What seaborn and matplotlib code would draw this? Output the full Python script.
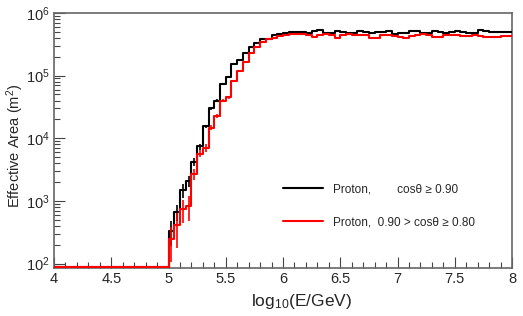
import numpy as np
import pandas as pd
import seaborn as sns
import matplotlib
matplotlib.use("Agg")
import matplotlib.pyplot as plt
from matplotlib.ticker import MultipleLocator, LogLocator, FixedLocator

# bin edges in log10(E/GeV), 0.05 wide
edges = np.round(np.arange(4.0, 8.0001, 0.05), 3)
centers = 0.5 * (edges[:-1] + edges[1:])

# Effective area per bin (m^2); bins below 5.0 are empty
area_c090 = [0] * 20 + [
    330, 675, 1480, 2090, 4170, 7400, 15500, 30000, 40000, 74000,
    94000, 155000, 178000, 230000, 283000, 330000, 380000, 380000, 450000, 460000,
    482000, 500000, 495000, 500000, 470000, 510000, 531000, 480000, 470000, 520000,
    500000, 485000, 480000, 510000, 500000, 480000, 490000, 505000, 510000, 465000,
    470000, 480000, 510000, 510000, 480000, 475000, 520000, 500000, 480000, 490000,
    515000, 500000, 485000, 480000, 525000, 520000, 500000, 495000, 500000, 495000,
]
area_c080 = [0] * 20 + [
    245, 410, 750, 830, 2680, 5700, 7100, 14800, 23000, 40000,
    45000, 81000, 117000, 163000, 230000, 283000, 340000, 380000, 400000, 430000,
    450000, 455000, 460000, 455000, 440000, 410000, 450000, 455000, 445000, 400000,
    450000, 460000, 445000, 440000, 450000, 395000, 400000, 450000, 440000, 430000,
    420000, 405000, 435000, 445000, 455000, 450000, 420000, 410000, 440000, 445000,
    450000, 430000, 425000, 440000, 430000, 420000, 415000, 420000, 430000, 425000,
]
# statistical errors (m^2), only visible on the rising edge
err_c090 = [0] * 20 + [140, 200, 350, 450, 600, 800, 1000, 1500, 2000, 2500, 3000] + [0] * 49
err_c080 = [0] * 20 + [140, 230, 300, 350, 500, 700, 1100, 1300, 1700, 2200, 2500] + [0] * 49

labels = ["Proton,        cos\u03b8 \u2265 0.90", "Proton,  0.90 > cos\u03b8 \u2265 0.80"]
colors = ["black", "#ff0000"]

sns.set_theme(style="ticks")
plt.rcParams["font.family"] = ["Liberation Sans", "DejaVu Sans"]
plt.rcParams["mathtext.fontset"] = "custom"
plt.rcParams["mathtext.rm"] = "Liberation Sans"
plt.rcParams["mathtext.it"] = "Liberation Sans:italic"
plt.rcParams["mathtext.default"] = "regular"

ymin, ymax = 85, 1e6

fig = plt.figure(figsize=(5.23, 3.16), dpi=100)
ax = fig.add_axes([0.1033, 0.152, 0.8757, 0.807])

for vals, errs, col in zip([area_c090, area_c080], [err_c090, err_c080], colors):
    # empty bins sit on the floor of the log axis, as in ROOT
    v = np.clip(np.array(vals, dtype=float), ymin * 1.02, None)
    df = pd.DataFrame({"logE": centers, "area": v})
    sns.histplot(data=df, x="logE", weights="area", bins=edges.tolist(), element="step",
                 fill=False, color=col, linewidth=1.5, zorder=3, ax=ax)
    e = np.array(errs, dtype=float)
    m = e > 0
    ax.errorbar(centers[m], v[m], yerr=e[m], fmt="none", ecolor=col, elinewidth=1.2,
                zorder=3)

ax.set_yscale("log")
ax.set_xlim(4, 8)
ax.set_ylim(ymin, ymax)

ax.xaxis.set_major_locator(MultipleLocator(0.5))
ax.xaxis.set_minor_locator(MultipleLocator(0.1))
ax.xaxis.set_major_formatter(plt.FuncFormatter(lambda x, p: f"{x:g}"))
ax.yaxis.set_major_locator(FixedLocator([1e2, 1e3, 1e4, 1e5, 1e6]))
ax.yaxis.set_major_formatter(plt.FuncFormatter(lambda y, p: f"$10^{{{int(round(np.log10(y)))}}}$"))
ax.yaxis.set_minor_locator(LogLocator(base=10, subs=np.arange(2, 10)))

ax.tick_params(which="major", direction="in", length=8, width=0.8, labelsize=10.5,
               color="#444444", top=False, right=False, pad=3)
ax.tick_params(which="minor", direction="in", length=4, width=0.8, color="#444444",
               top=False, right=False)
for s in ax.spines.values():
    s.set_color("#666666")
    s.set_linewidth(1.2)

ax.set_xlabel("log$_{10}$(E/GeV)", fontsize=12.5)
ax.xaxis.set_label_coords(0.54, -0.095)
ax.set_ylabel("Effective Area (m$^{2}$)", fontsize=10.5)
ax.yaxis.set_label_coords(-0.062, 0.48)

handles = [plt.Line2D([], [], color=c, lw=1.5) for c in colors]
ax.legend(handles, labels, loc="upper left", bbox_to_anchor=(0.5, 0.332), frameon=False,
          fontsize=8.5, handlelength=3.4, handletextpad=0.85, labelspacing=1.8,
          borderpad=0, borderaxespad=0)

fig.savefig("out.png", dpi=100)
